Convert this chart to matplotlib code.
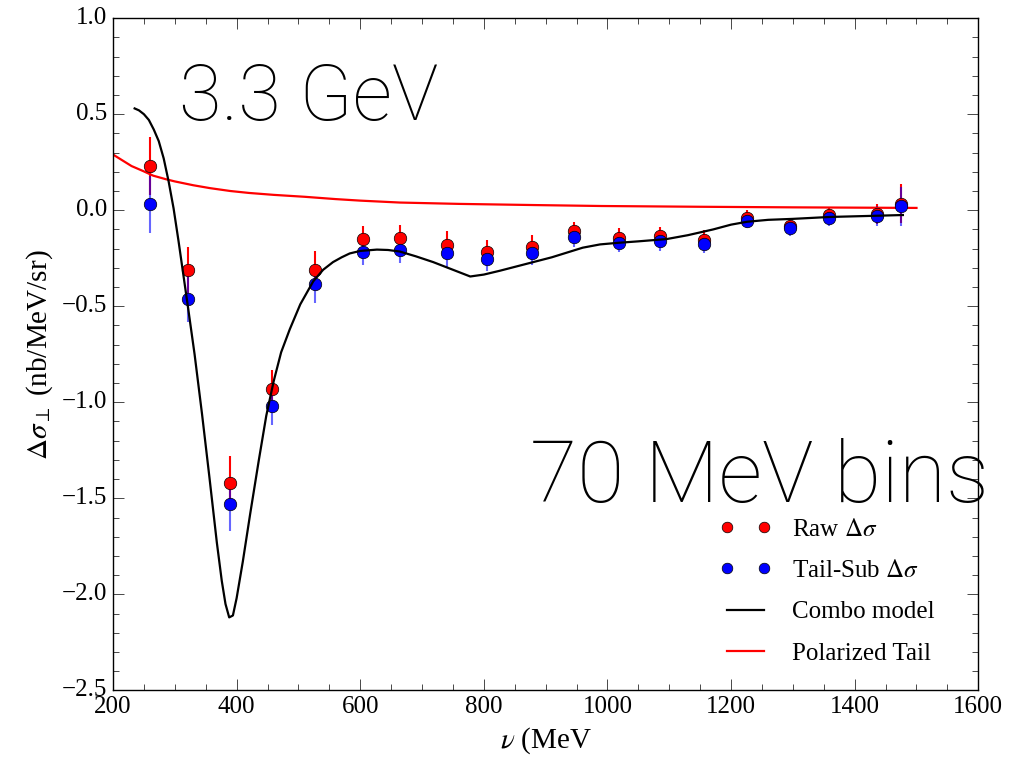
import matplotlib
matplotlib.use("Agg")
import matplotlib.pyplot as plt
import matplotlib.ticker as ticker

plt.style.use("classic")
plt.rcParams["font.family"] = ["Liberation Serif", "DejaVu Serif"]
plt.rcParams["mathtext.fontset"] = "stix"
plt.rcParams["axes.unicode_minus"] = True

# --------- data -----------------------------------
nu = [260, 321, 390, 457, 527, 604, 664, 741, 805, 878, 946, 1019, 1085, 1157, 1226, 1296, 1358, 1436, 1475]
raw = [0.23, -0.31, -1.42, -0.93, -0.31, -0.15, -0.145, -0.18, -0.215, -0.19, -0.11, -0.145, -0.135, -0.155,
       -0.04, -0.08, -0.025, -0.02, 0.035]
raw_err = [0.15, 0.12, 0.14, 0.10, 0.10, 0.07, 0.07, 0.07, 0.06, 0.06, 0.05, 0.05, 0.05, 0.05,
           0.04, 0.04, 0.04, 0.05, 0.10]
tailsub = [0.03, -0.46, -1.53, -1.02, -0.385, -0.215, -0.205, -0.225, -0.255, -0.225, -0.14, -0.17, -0.16, -0.175,
           -0.055, -0.095, -0.04, -0.03, 0.02]
tailsub_err = [0.15, 0.12, 0.14, 0.10, 0.10, 0.07, 0.07, 0.07, 0.06, 0.06, 0.05, 0.05, 0.05, 0.05,
               0.04, 0.04, 0.04, 0.05, 0.10]

combo_x = [235, 242, 250, 258, 266, 274, 282, 290, 298, 306, 314, 322, 332, 344, 356, 368, 376, 382, 388,
           394, 400, 410, 422, 436, 448, 460, 472, 486, 503, 524, 540, 556, 570, 583, 600, 627, 645, 664, 690,
           718, 750, 778, 800, 826, 850, 880, 910, 935, 960, 988, 1016, 1050, 1096, 1130, 1171, 1200, 1226,
           1260, 1300, 1360, 1420, 1478]
combo_y = [0.53, 0.52, 0.50, 0.47, 0.42, 0.36, 0.27, 0.15, 0.01, -0.16, -0.34, -0.52, -0.75, -1.06, -1.39,
           -1.73, -1.93, -2.05, -2.12, -2.11, -2.02, -1.83, -1.58, -1.30, -1.07, -0.89, -0.74, -0.62, -0.49,
           -0.37, -0.31, -0.27, -0.245, -0.225, -0.212, -0.205, -0.207, -0.215, -0.24, -0.27, -0.31, -0.345,
           -0.335, -0.315, -0.295, -0.27, -0.245, -0.22, -0.195, -0.178, -0.17, -0.162, -0.15, -0.13, -0.10,
           -0.075, -0.06, -0.05, -0.045, -0.035, -0.03, -0.025]

tail_x = [200, 215, 230, 248, 265, 285, 300, 330, 357, 390, 420, 460, 510, 560, 600, 664, 760, 880, 990,
          1150, 1300, 1500]
tail_y = [0.29, 0.26, 0.23, 0.205, 0.18, 0.162, 0.15, 0.13, 0.115, 0.10, 0.09, 0.08, 0.07, 0.058, 0.05,
          0.04, 0.033, 0.027, 0.022, 0.018, 0.015, 0.012]

# --------- figure ----------
fig = plt.figure(figsize=(10.18, 7.57), dpi=100, facecolor="white")
ax = fig.add_axes([0.111, 0.088, 0.850, 0.888])

# error bars (no legend entries)
ax.errorbar(nu, raw, yerr=raw_err, fmt="none", ecolor="r", elinewidth=1.5, capsize=0, zorder=2)
ax.errorbar(nu, tailsub, yerr=tailsub_err, fmt="none", ecolor=(0, 0, 1, 0.6), elinewidth=1.5,
            capsize=0, zorder=2)

ax.plot(nu, raw, "o", color="r", mec="k", ms=9, label=r"Raw $\Delta\sigma$", zorder=3)
ax.plot(nu, tailsub, "o", color="b", mec="k", ms=9, label=r"Tail-Sub $\Delta\sigma$", zorder=4)
ax.plot(combo_x, combo_y, "k-", lw=1.6, label="Combo model", zorder=5)
ax.plot(tail_x, tail_y, "r-", lw=1.6, label="Polarized Tail", zorder=2)

ax.set_xlim(200, 1600)
ax.set_ylim(-2.5, 1.0)
ax.xaxis.set_major_locator(ticker.MultipleLocator(200))
ax.xaxis.set_minor_locator(ticker.MultipleLocator(50))
ax.yaxis.set_major_locator(ticker.MultipleLocator(0.5))
ax.yaxis.set_minor_locator(ticker.MultipleLocator(0.1))
ax.tick_params(labelsize=18)
ax.tick_params(which="major", length=8)
ax.tick_params(which="minor", length=4)

ax.set_xlabel(r"$\nu$ (MeV", fontsize=21)
ax.set_ylabel(r"$\Delta\sigma_\perp$ (nb/MeV/sr)", fontsize=21)

big_font = ["Roboto", "DejaVu Sans"]
ax.text(0.076, 0.848, "3.3 GeV", transform=ax.transAxes, fontsize=56,
        family=big_font, fontweight="light")
ax.text(0.482, 0.280, "70 MeV bins", transform=ax.transAxes, fontsize=62,
        family=big_font, fontweight="light")

leg = ax.legend(loc="lower right", numpoints=2, frameon=False, fontsize=18,
                bbox_to_anchor=(0.975, 0.005), handlelength=2.1, labelspacing=0.75, markerscale=0.85)

fig.savefig("out.png", dpi=100, facecolor="white")
